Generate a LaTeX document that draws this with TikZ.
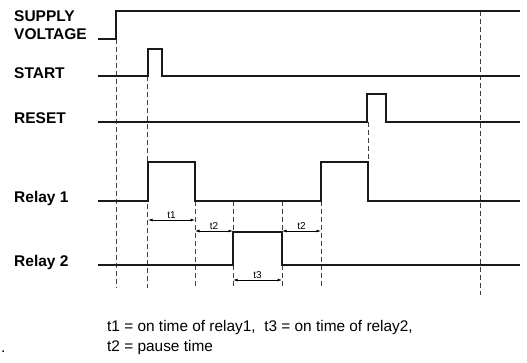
\documentclass[tikz,border=0pt]{standalone}
\usepackage{fontspec}
\setmainfont{Liberation Sans}
\usetikzlibrary{arrows.meta,positioning}
\tikzset{
  signal/.style={line width=2.3pt, line join=miter, black!90},
  guide/.style={dash pattern=on 5pt off 3pt, line width=0.9pt, black!75},
  span/.style={{Latex[length=4.5pt,width=3pt]}-{Latex[length=4.5pt,width=3pt]}, line width=0.7pt},
  siglabel/.style={font=\bfseries\fontsize{15.5}{18}\selectfont, anchor=west, inner sep=0pt, align=left},
  spanlabel/.style={font=\fontsize{10}{11}\selectfont, above, inner sep=1.5pt},
  note/.style={font=\fontsize{15.4}{18}\selectfont, anchor=west, inner sep=0pt},
}

\begin{document}
\begin{tikzpicture}[x=1pt,y=-1pt]
\useasboundingbox (0,0) rectangle (527,362);
% signal names
\node[siglabel] (supply) at (14,25) {SUPPLY\\VOLTAGE};
\node[siglabel] (start) at (14,73) {START};
\node[siglabel] (reset) at (14,118) {RESET};
\node[siglabel] (relayA) at (14,198) {Relay 1};
\node[siglabel] (relayB) at (14,262) {Relay 2};
% timing guides
\foreach \x/\ya/\yb in {116/39/288, 147.5/76/288, 195/201/287, 233/201/287,
    282/201/287, 321/201/287, 368/122/162, 480/10.7/295}
  \draw[guide] (\x,\ya) -- (\x,\yb);
% waveforms
\draw[signal] (98,39) -- (116,39) -- (116,10.7) -- (520,10.7);
\draw[signal] (98,76) -- (148,76) -- (148,49) -- (162,49) -- (162,76) -- (520,76);
\draw[signal] (98,122) -- (367,122) -- (367,94) -- (386,94) -- (386,122) -- (520,122);
\draw[signal] (98,201) -- (148,201) -- (148,162) -- (195,162) -- (195,201)
  -- (321,201) -- (321,162) -- (368,162) -- (368,201) -- (520,201);
\draw[signal] (98,265) -- (233,265) -- (233,232) -- (282,232) -- (282,265) -- (520,265);
% intervals
\draw[span] (148,220) -- node[spanlabel] {t1} (195,220);
\draw[span] (195,231) -- node[spanlabel] {t2} (233,231);
\draw[span] (233,280) -- node[spanlabel] {t3} (282,280);
\draw[span] (282,231) -- node[spanlabel] {t2} (321,231);
% legend
\node[note] (legendA) at (107,328) {t1 = on time of relay1,\ \ t3 = on time of relay2,};
\node[note] (legendB) at (107,348) {t2 = pause time};
\node[note] (dot) at (1,352) {.};
\end{tikzpicture}
\end{document}
